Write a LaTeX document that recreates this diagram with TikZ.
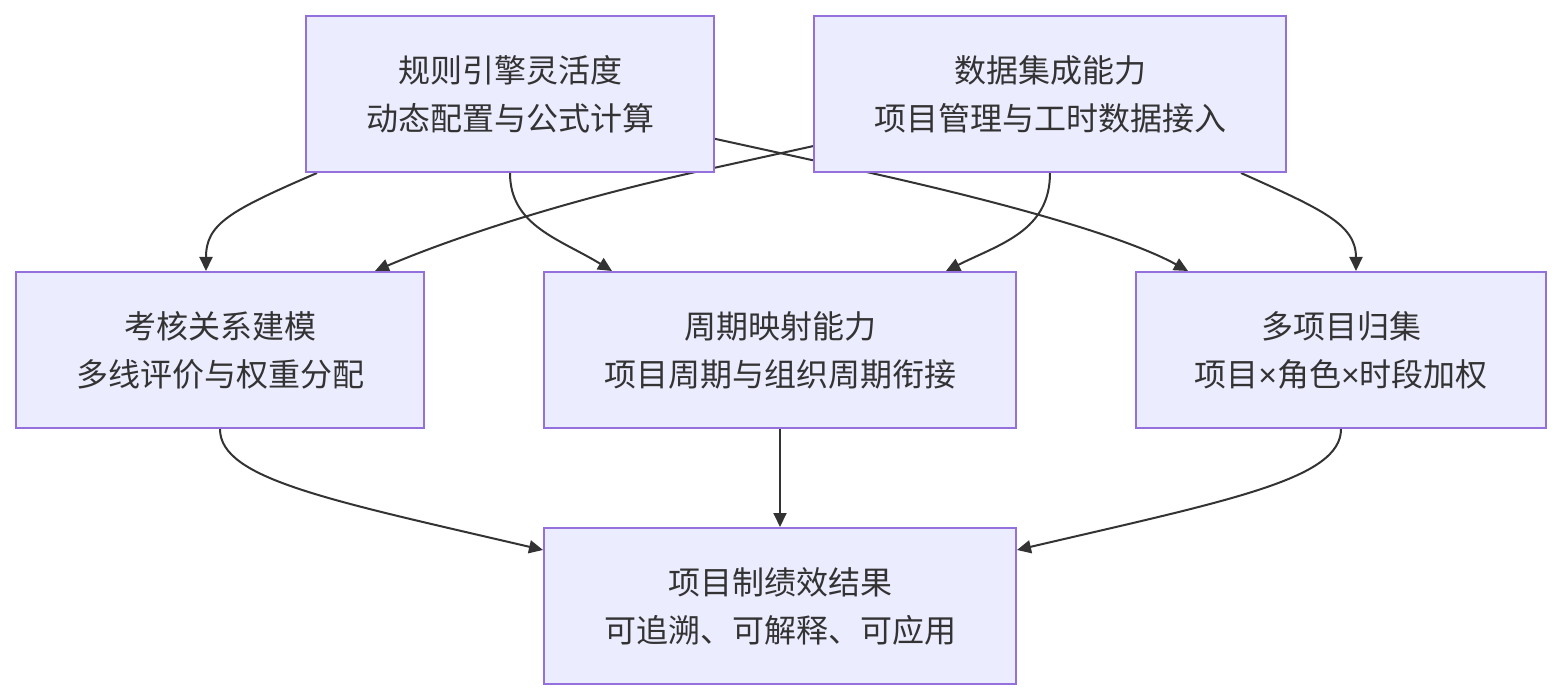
\documentclass[tikz,border=0pt]{standalone}
\usepackage{fontspec}
\setmainfont{Noto Sans CJK SC}
\newfontfamily\latinfont{Liberation Sans}
\usetikzlibrary{arrows.meta,backgrounds}
\definecolor{boxfill}{HTML}{ECECFF}
\definecolor{boxline}{HTML}{9370DB}
\definecolor{ink}{HTML}{333333}
\newcommand{\mytimes}{{\latinfont ×}}
\begin{document}
\begin{tikzpicture}[x=1pt,y=-1pt,
  box/.style={draw=boxline,fill=boxfill,line width=2pt,minimum height=156pt,
    inner sep=0pt,align=center,text=ink,font=\fontsize{32}{48}\selectfont},
  link/.style={draw=ink,line width=2pt,-{Triangle[length=14pt,width=13pt]}}]
\useasboundingbox (0,0) rectangle (1561,700);
\node[box,minimum width=408pt] (A) at (510,94) {规则引擎灵活度\\动态配置与公式计算};
\node[box,minimum width=472pt] (B) at (1050,94) {数据集成能力\\项目管理与工时数据接入};
\node[box,minimum width=408pt] (C) at (220,350) {考核关系建模\\多线评价与权重分配};
\node[box,minimum width=472pt] (D) at (780,350) {周期映射能力\\项目周期与组织周期衔接};
\node[box,minimum width=410pt] (E) at (1341,350) {多项目归集\\项目\mytimes 角色\mytimes 时段加权};
\node[box,minimum width=472pt] (F) at (780,606) {项目制绩效结果\\可追溯、可解释、可应用};
\coordinate (aeBend) at (862,171);
\coordinate (bcBend) at (700,171);
\begin{scope}[on background layer]
\fill[white] (0,0) rectangle (1561,700);
\draw[link] ([xshift=12pt]A.south west) .. controls +(-88,38) and +(0,-47) .. ([xshift=-14pt]C.north);
\draw[link] (A.south) .. controls +(0,53) and +(-52,-32) .. ([xshift=-168pt]D.north);
\draw[link] (A.center) -- (aeBend) .. controls +(158,35) and +(-58,-32) .. ([xshift=-153pt]E.north);
\draw[link] (B.center) -- (bcBend) .. controls +(-140,31) and +(75,-32) .. ([xshift=155pt]C.north);
\draw[link] (B.south) .. controls +(0,58) and +(54,-27) .. ([xshift=166pt]D.north);
\draw[link] ([xshift=-46pt]B.south east) .. controls +(80,36) and +(0,-47) .. ([xshift=15pt]E.north);
\draw[link] (C.south) .. controls +(0,50) and +(-214,-50) .. ([yshift=56pt]F.west);
\draw[link] (D.south) -- (F.north);
\draw[link] (E.south) .. controls +(0,50) and +(214,-50) .. ([yshift=56pt]F.east);
\end{scope}
\end{tikzpicture}
\end{document}
